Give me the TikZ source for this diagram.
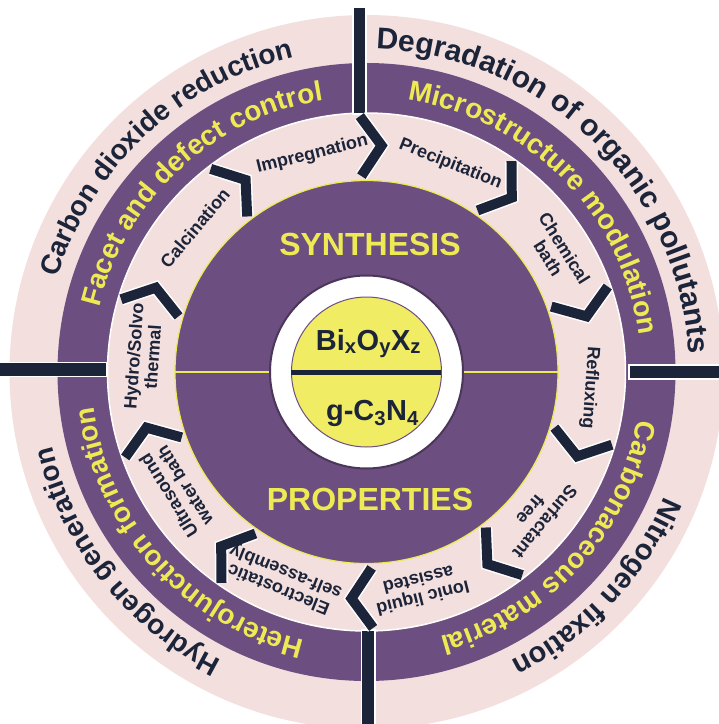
\documentclass[tikz,border=0pt]{standalone}
\usepackage{fontspec}
\setmainfont{Liberation Sans}
\usetikzlibrary{decorations.text}
\definecolor{color1}{RGB}{108,78,128}
\definecolor{color2}{RGB}{243,224,222}
\definecolor{color3}{RGB}{238,234,84}
\definecolor{color4}{RGB}{28,36,58}
\definecolor{color5}{RGB}{240,236,100}

\begin{document}
\begin{tikzpicture}[x=1pt,y=1pt,
    proc/.style={text=color4,align=center,font=\bfseries\fontsize{18}{19}\selectfont},
    core/.style={text=color3,font=\bfseries\fontsize{32}{34}\selectfont},
    formula/.style={text=color4,anchor=base,font=\bfseries\fontsize{29}{30}\selectfont},
    chevback/.style={white,line width=13pt,line join=miter},
    chevfront/.style={color4,line width=10pt,line join=miter},
    bar/.style={fill=color4,draw=white,line width=1.5pt}]
    \useasboundingbox (-366.5,-352) rectangle (352.5,372);
    \clip (-366.5,-352) rectangle (352.5,372);
    % rings
    \fill[color2] (0,0) circle (357);
    \fill[color1] (0,0) circle (309);
    \draw[white,line width=1.5pt,fill=color2] (0,0) circle (259);
    \draw[color3,line width=1.2pt,fill=color1] (0,0) circle (191.5);
    \draw[color3,line width=1.2pt] (-191.5,0) -- (191.5,0);
    \draw[color1!70!black,line width=2pt,fill=white] (0,0) circle (96.5);
    \draw[color1,line width=1pt,fill=color5] (0,0) circle (75);
    \draw[color4,line width=5pt] (-75,0) -- (75,0);
    % separators
    \draw[bar] (-13.5,258) rectangle (-0.5,365);
    \draw[bar] (-4.8,-258) rectangle (8.5,-365);
    \draw[bar] (-370,-4.7) rectangle (-259.5,9.3);
    \draw[bar] (262.5,-7) rectangle (370,7);
    % chevrons
    \foreach \a in {19.5,55.5,91.5,127.5,163.5,199.5,235.5,271.5,307.5,343.5}{
        \draw[chevback,rotate=\a] (196,0) -- (226,-21) -- (256,0);
    }
    \foreach \a in {19.5,55.5,91.5,127.5,163.5,199.5,235.5,271.5,307.5,343.5}{
        \draw[chevfront,rotate=\a] (196,0) -- (226,-21) -- (256,0);
    }
    % centre
    \node[core] (synth) at (3.5,128) {SYNTHESIS};
    \node[core] (prop) at (3.5,-127.5) {PROPERTIES};
    \node[formula] (bioxz) at (2,22) {Bi\textsubscript{x}O\textsubscript{y}X\textsubscript{z}};
    \node[formula] (gcn) at (6,-48) {g-C\textsubscript{3}N\textsubscript{4}};
    % synthesis routes
    \node[proc,rotate=86] (hydro) at (176:224) {Hydro/Solvo\\thermal};
    \node[proc,rotate=50] (calc) at (140:224) {Calcination};
    \node[proc,rotate=14] (impr) at (104:224) {Impregnation};
    \node[proc,rotate=-22] (prec) at (68:224) {Precipitation};
    \node[proc,rotate=-58] (chem) at (32:224) {Chemical\\bath};
    \node[proc,rotate=-94] (refl) at (-4:224) {Refluxing};
    \node[proc,rotate=-130] (surf) at (-40:224) {Surfactant\\free};
    \node[proc,rotate=-166] (ionic) at (-76:224) {Ionic liquid\\assisted};
    \node[proc,rotate=-202] (elec) at (-112:224) {Electrostatic\\self-assembly};
    \node[proc,rotate=-238] (ultra) at (-148:224) {Ultrasound\\water bath};
    % applications
    \path[decorate,decoration={text along path,text align=center,
        text={|\bfseries\fontsize{28}{28}\selectfont\color{color4}|Carbon dioxide reduction}}]
        (193:323) arc[start angle=193,end angle=73,radius=323];
    \path[decorate,decoration={text along path,text align=center,
        text={|\bfseries\fontsize{30}{30}\selectfont\color{color4}|Degradation of organic pollutants}}]
        (105.7:323) arc[start angle=105.7,end angle=-14.3,radius=323];
    \path[decorate,decoration={text along path,text align=center,
        text={|\bfseries\fontsize{29}{29}\selectfont\color{color4}|Nitrogen fixation}}]
        (17:323) arc[start angle=17,end angle=-103,radius=323];
    \path[decorate,decoration={text along path,text align=center,
        text={|\bfseries\fontsize{28}{28}\selectfont\color{color4}|Hydrogen generation}}]
        (-81.7:323) arc[start angle=-81.7,end angle=-201.7,radius=323];
    % strategies
    \path[decorate,decoration={text along path,text align=center,
        text={|\bfseries\fontsize{28}{28}\selectfont\color{color3}|Facet and defect control}}]
        (192.7:275) arc[start angle=192.7,end angle=72.7,radius=275];
    \path[decorate,decoration={text along path,text align=center,
        text={|\bfseries\fontsize{28}{28}\selectfont\color{color3}|Microstructure modulation}}]
        (104.5:275) arc[start angle=104.5,end angle=-15.5,radius=275];
    \path[decorate,decoration={text along path,text align=center,
        text={|\bfseries\fontsize{28}{28}\selectfont\color{color3}|Carbonaceous material}}]
        (17.7:275) arc[start angle=17.7,end angle=-102.3,radius=275];
    \path[decorate,decoration={text along path,text align=center,
        text={|\bfseries\fontsize{28}{28}\selectfont\color{color3}|Heterojunction formation}}]
        (-77.9:275) arc[start angle=-77.9,end angle=-197.9,radius=275];
\end{tikzpicture}
\end{document}
